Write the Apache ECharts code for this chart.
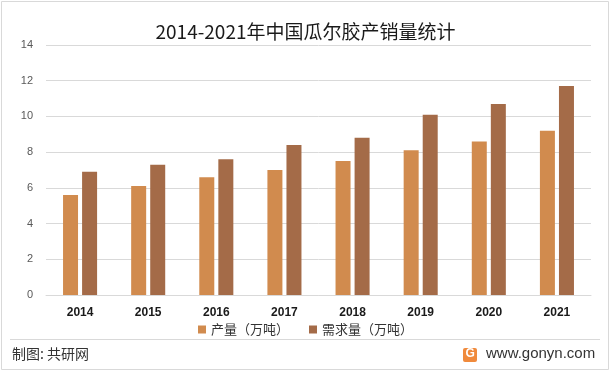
<!DOCTYPE html>
<html><head><meta charset="utf-8">
<script src="https://cdn.jsdelivr.net/npm/echarts@6/dist/echarts.min.js"></script>
<style>html,body{margin:0;padding:0;background:#fff}#c{width:611px;height:372px}</style>
</head><body><div id="c"></div>
<script>
const categories = ['2014','2015','2016','2017','2018','2019','2020','2021'];
const production = [5.6, 6.1, 6.6, 7.0, 7.5, 8.1, 8.6, 9.2];
const demand = [6.9, 7.3, 7.6, 8.4, 8.8, 10.1, 10.7, 11.7];
const yTicks = [0, 2, 4, 6, 8, 10, 12, 14];
const seriesNames = ['产量（万吨）', '需求量（万吨）'];

const font = '"Noto Sans CJK SC", "Noto Sans", sans-serif';
const chart = echarts.init(document.getElementById('c'));
chart.setOption({
  animation: false,
  textStyle: {fontFamily: font},
  title: {
    text: '2014-2021年中国瓜尔胶产销量统计',
    left: 'center', top: 17,
    textStyle: {fontSize: 19, fontWeight: 'normal', color: '#1a1a1a', fontFamily: font}
  },
  grid: {left: 46, right: 20, top: 45, bottom: 77},
  legend: {
    data: seriesNames, bottom: 31, left: 'center',
    itemWidth: 8, itemHeight: 8, itemGap: 20, icon: 'rect',
    textStyle: {fontSize: 13, color: '#333', fontFamily: font}
  },
  xAxis: {
    type: 'category', data: categories,
    axisLine: {lineStyle: {color: '#d9d9d9'}},
    axisTick: {show: false},
    axisLabel: {fontSize: 12, fontWeight: 'bold', color: '#1a1a1a', margin: 12, fontFamily: '"Liberation Sans", Arial, sans-serif'}
  },
  yAxis: {
    type: 'value', min: yTicks[0], max: yTicks[yTicks.length - 1], interval: 2,
    axisLine: {show: false}, axisTick: {show: false},
    splitLine: {lineStyle: {color: '#d9d9d9'}},
    axisLabel: {fontSize: 11, color: '#595959', margin: 13, fontFamily: '"Liberation Sans", Arial, sans-serif'}
  },
  series: [
    {name: seriesNames[0], type: 'bar', data: production, barWidth: 15, barGap: '27%', itemStyle: {color: '#D18B4E'}},
    {name: seriesNames[1], type: 'bar', data: demand, barWidth: 15, itemStyle: {color: '#A46B48'}}
  ],
  graphic: [
    {type: 'rect', shape: {x: 1.5, y: 1.5, width: 607, height: 368}, style: {fill: 'none', stroke: '#d9d9d9', lineWidth: 1}},
    {type: 'line', shape: {x1: 10, y1: 339.5, x2: 600, y2: 339.5}, style: {stroke: '#d9d9d9', lineWidth: 1}},
    {type: 'text', left: 12, top: 347, style: {text: '制图: 共研网', fontSize: 14, fill: '#333', fontFamily: font}},
    {type: 'rect', shape: {x: 463, y: 348, width: 14, height: 14, r: 2}, style: {fill: '#F08A3C'}},
    {type: 'text', left: 465.5, top: 348, style: {text: 'G', fontSize: 12, fontWeight: 'bold', fill: '#fff', fontFamily: '"Liberation Sans", sans-serif'}},
    {type: 'text', left: 486, top: 346, style: {text: 'www.gonyn.com', fontSize: 15, fill: '#333', fontFamily: '"Liberation Sans", Arial, sans-serif'}}
  ]
});
</script></body></html>
